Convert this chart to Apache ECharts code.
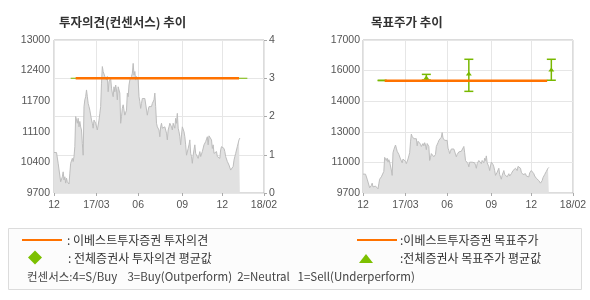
<!DOCTYPE html>
<html>
<head>
<meta charset="utf-8">
<script src="https://cdn.jsdelivr.net/npm/echarts@6/dist/echarts.min.js"></script>
<style>
html,body{margin:0;padding:0;background:#fff;}
#c{width:590px;height:300px;}
</style>
</head>
<body>
<div id="c"></div>
<script>
// ---- data ----
const categoryCount = 253; // trading-day slots on the x axis
const xTickIndex = [0, 51, 101, 154, 202, 252];
const xTickLabels = ['12', '17/03', '06', '09', '12', '18/02'];

const leftPriceTicks = ['9700', '10400', '11100', '11700', '12400', '13000'];
const opinionTicks = ['0', '1', '2', '3', '4'];
const rightPriceTicks = ['9700', '11000', '13000', '14000', '16000', '17000'];

const prices = [
  10600,10580,10620,10600,10620,10360,10360,10360,9950,9920,
  10060,10170,9990,10060,9920,10030,9950,9990,9900,10140,
  10360,10320,10470,10400,10510,10730,11400,11360,11250,11360,
  11170,11290,11170,11100,10800,10540,11620,11770,11840,11990,
  11840,11690,11620,11540,11510,11320,11250,11140,11320,11360,
  11250,11210,11100,11060,11320,11470,11620,12140,12510,12400,
  12360,12290,12320,12210,12290,11950,12170,12210,12250,12030,
  11920,11840,12060,11950,12100,11990,11770,12060,12030,11920,
  11250,11400,11580,11660,11540,11430,11430,11540,11920,11840,
  12100,12210,12210,12290,12360,12580,12320,12400,12210,12290,
  12250,12210,11840,11730,11580,11690,11800,11840,11840,11800,
  11800,11770,11430,11540,11620,11660,11660,11620,11690,11660,
  11770,11920,11620,11250,11170,11210,11100,10950,11170,11250,
  11140,11170,11100,11170,11140,11030,10880,11100,11170,11250,
  11290,11170,11100,11250,11290,11140,11360,11250,11470,11140,
  11060,10950,10770,10990,11170,11140,11060,10950,10770,10540,
  10510,10690,10770,10880,10580,10510,10360,10540,10660,10770,
  10580,10540,10620,10470,10540,10620,10510,10540,10620,10660,
  10770,10730,10840,10880,10950,10770,10970,10950,10990,10880,
  10690,10770,10580,10540,10580,10620,10510,10470,10540,10470,
  10660,10730,10770,10770,10690,10620,10510,10470,10400,10360,
  10320,10290,10210,10170,10250,10290,10430,10510,10580,10620,
  10730,10770,10880,10920
];

// 이베스트투자증권 투자의견 (start idx, end idx, value)
const ebestOpinion = [[26, 3], [222, 3]];
// 전체증권사 투자의견 평균값
const consensusOpinion = [[20, 3], [232, 3]];
// 이베스트투자증권 목표주가
const ebestTarget = [[26, 15060], [221, 15060]];
// 전체증권사 목표주가: [idx, low, high, average]
const consensusTarget = [
  [23, 15070, 15070, null],
  [76, 15090, 15360, 15190],
  [127, 14550, 16080, 15380],
  [226, 15080, 16080, 15570]
];

// ---- styles ----
const ORANGE = '#ff7200';
const GREEN = '#78b800';
const FONT = '"Liberation Sans", Arial, sans-serif';
const KFONT = '"Noto Sans CJK KR", sans-serif';

const categories = Array.from({length: categoryCount}, (_, i) => String(i));
const isTick = (i) => xTickIndex.indexOf(i) >= 0;

function xAxisDef(gridIndex) {
  return {
    type: 'category', gridIndex, data: categories, boundaryGap: false,
    axisLine: {show: false},
    axisTick: {show: true, interval: isTick, length: 3, lineStyle: {color: '#aaa'}},
    axisLabel: {interval: isTick, margin: 7, fontSize: 10.5, fontFamily: FONT, color: '#555',
      formatter: (v, i) => xTickLabels[xTickIndex.indexOf(Number(v))] || ''},
    splitLine: {show: true, interval: isTick, lineStyle: {color: '#e6e6e6', width: 1}}
  };
}

const chart = echarts.init(document.getElementById('c'), null, {renderer: 'canvas'});

chart.setOption({
  animation: false,
  backgroundColor: '#ffffff',
  title: [
    {text: '투자의견(컨센서스) 추이', left: 54, top: 11,
     textStyle: {fontFamily: KFONT, fontSize: 12.5, fontWeight: 'bold', color: '#333'}},
    {text: '목표주가 추이', left: 366, top: 11,
     textStyle: {fontFamily: KFONT, fontSize: 12.5, fontWeight: 'bold', color: '#333'}}
  ],
  grid: [
    {left: 54, top: 40, width: 210, height: 153, show: true, borderColor: '#b8b8b8', borderWidth: 1, backgroundColor: '#fff'},
    {left: 363, top: 40, width: 210, height: 153, show: true, borderColor: '#b8b8b8', borderWidth: 1, backgroundColor: '#fff'}
  ],
  xAxis: [xAxisDef(0), xAxisDef(1)],
  yAxis: [
    {type: 'value', gridIndex: 0, position: 'left', min: 9700, max: 13100, interval: 680,
     axisLine: {show: false}, axisTick: {show: false}, splitLine: {show: false},
     axisLabel: {margin: 4, fontSize: 10.5, fontFamily: FONT, color: '#555',
       formatter: (v) => leftPriceTicks[Math.round((v - 9700) / 680)]}},
    {type: 'value', gridIndex: 0, position: 'right', min: 0, max: 4, interval: 1,
     axisLine: {show: false}, axisTick: {show: true, length: 3, lineStyle: {color: '#aaa'}},
     splitLine: {show: true, lineStyle: {color: '#e6e6e6', width: 1}},
     axisLabel: {margin: 5, fontSize: 10.5, fontFamily: FONT, color: '#555',
       formatter: (v) => opinionTicks[Math.round(v)]}},
    {type: 'value', gridIndex: 1, position: 'left', min: 9700, max: 17000, interval: 1460,
     axisLine: {show: false}, axisTick: {show: false},
     splitLine: {show: true, lineStyle: {color: '#e6e6e6', width: 1}},
     axisLabel: {margin: 3, fontSize: 10.5, fontFamily: FONT, color: '#555',
       formatter: (v) => rightPriceTicks[Math.round((v - 9700) / 1460)]}}
  ],
  series: [
    {type: 'line', xAxisIndex: 0, yAxisIndex: 0, data: prices, symbol: 'none', z: 2,
     lineStyle: {color: '#bdbdbd', width: 1}, areaStyle: {color: '#e1e1e1', opacity: 1}},
    {type: 'line', xAxisIndex: 0, yAxisIndex: 1, data: consensusOpinion, symbol: 'none', z: 3,
     lineStyle: {color: GREEN, width: 1.2}},
    {type: 'line', xAxisIndex: 0, yAxisIndex: 1, data: ebestOpinion, symbol: 'none', z: 4,
     lineStyle: {color: ORANGE, width: 2.5}},

    {type: 'line', xAxisIndex: 1, yAxisIndex: 2, data: prices, symbol: 'none', z: 2,
     lineStyle: {color: '#bdbdbd', width: 1}, areaStyle: {color: '#e1e1e1', opacity: 1}},
    {type: 'custom', xAxisIndex: 1, yAxisIndex: 2, data: consensusTarget, z: 3,
     renderItem: function (params, api) {
       const x = api.value(0);
       const lo = api.coord([x, api.value(1)]);
       const hi = api.coord([x, api.value(2)]);
       const avg = api.value(3);
       const cw = 4.5;
       const st = {stroke: GREEN, lineWidth: 1.5};
       const children = [
         {type: 'line', shape: {x1: lo[0], y1: lo[1], x2: hi[0], y2: hi[1]}, style: st},
         {type: 'line', shape: {x1: hi[0] - cw, y1: hi[1], x2: hi[0] + cw, y2: hi[1]}, style: st},
         {type: 'line', shape: {x1: lo[0] - cw, y1: lo[1], x2: lo[0] + cw, y2: lo[1]}, style: st}
       ];
       if (avg != null && !isNaN(avg)) {
         const av = api.coord([x, avg]);
         children.push({type: 'polygon',
           shape: {points: [[av[0] - 3, av[1] + 1.5], [av[0] + 3, av[1] + 1.5], [av[0], av[1] - 2.5]]},
           style: {fill: GREEN}});
       }
       return {type: 'group', children};
     }},
    {type: 'line', xAxisIndex: 1, yAxisIndex: 2, data: ebestTarget, symbol: 'none', z: 4,
     lineStyle: {color: ORANGE, width: 2.5}}
  ],
  graphic: [
    {type: 'rect', shape: {x: 8.5, y: 228.5, width: 573, height: 61},
     style: {fill: '#fcfcfc', stroke: '#dcdcdc', lineWidth: 1}, z: 1},
    {type: 'line', shape: {x1: 22, y1: 240, x2: 62, y2: 240}, style: {stroke: ORANGE, lineWidth: 2}, z: 2},
    {type: 'text', x: 67, y: 240, style: {text: ': 이베스트투자증권 투자의견', font: '12px ' + KFONT, fill: '#333', verticalAlign: 'middle'}, z: 2},
    {type: 'polygon', shape: {points: [[35, 250.5], [42, 257.5], [35, 264.5], [28, 257.5]]}, style: {fill: '#7cc000'}, z: 2},
    {type: 'text', x: 68, y: 258, style: {text: ': 전체증권사 투자의견 평균값', font: '12px ' + KFONT, fill: '#333', verticalAlign: 'middle'}, z: 2},
    {type: 'line', shape: {x1: 357, y1: 240, x2: 397, y2: 240}, style: {stroke: ORANGE, lineWidth: 2}, z: 2},
    {type: 'text', x: 400, y: 240, style: {text: ':이베스트투자증권 목표주가', font: '12px ' + KFONT, fill: '#333', verticalAlign: 'middle'}, z: 2},
    {type: 'polygon', shape: {points: [[359, 263], [373, 263], [366, 254]]}, style: {fill: '#7cc000'}, z: 2},
    {type: 'text', x: 400, y: 258, style: {text: ':전체증권사 목표주가 평균값', font: '12px ' + KFONT, fill: '#333', verticalAlign: 'middle'}, z: 2},
    {type: 'text', x: 27, y: 277, style: {text: '컨센서스:4=S/Buy    3=Buy(Outperform)  2=Neutral   1=Sell(Underperform)', font: '11.5px ' + KFONT, fill: '#444', verticalAlign: 'middle'}, z: 2}
  ]
});
</script>
</body>
</html>
